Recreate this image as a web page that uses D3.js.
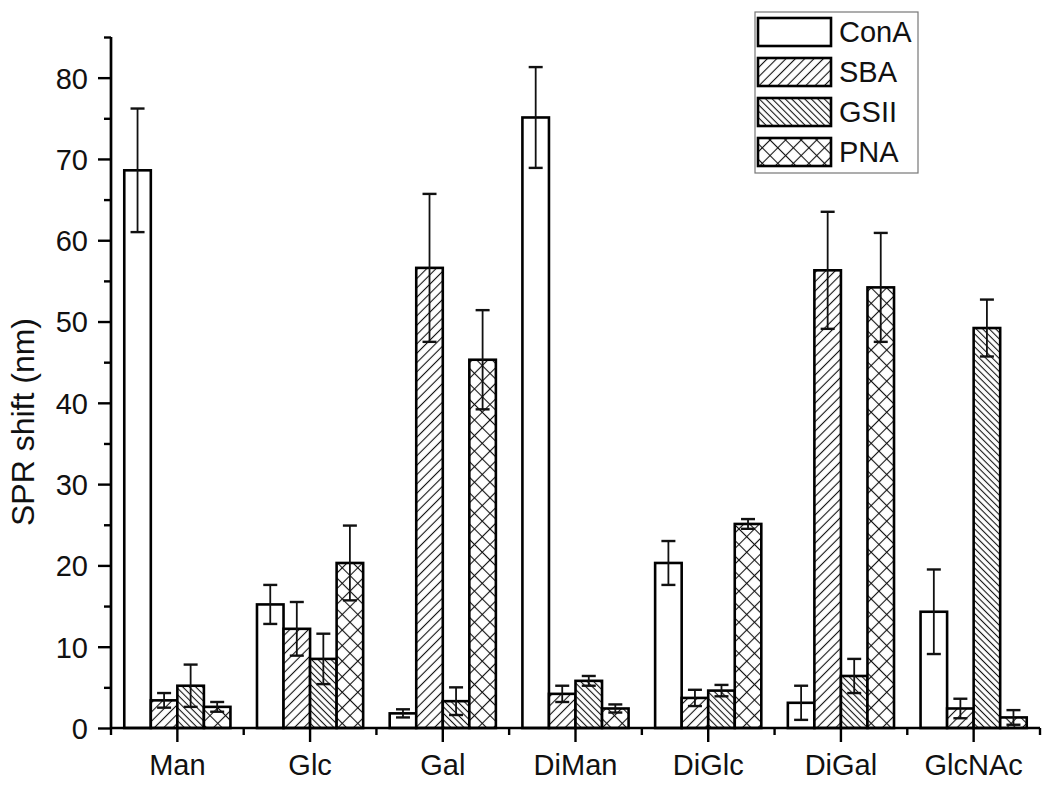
<!DOCTYPE html>
<html>
<head>
<meta charset="utf-8">
<script src="https://cdn.jsdelivr.net/npm/d3@7/dist/d3.min.js"></script>
<style>
  html, body { margin: 0; padding: 0; background: #fff; }
  svg { display: block; font-family: "Liberation Sans", Arial, sans-serif; }
</style>
</head>
<body>
<svg id="chart" width="1050" height="790"></svg>
<script>
// ---- data ----
const categories = ["Man", "Glc", "Gal", "DiMan", "DiGlc", "DiGal", "GlcNAc"];
const seriesNames = ["ConA", "SBA", "GSII", "PNA"];
const conA     = [68.6, 15.2, 1.8, 75.1, 20.3, 3.1, 14.3];
const conAErr  = [7.6, 2.4, 0.5, 6.2, 2.7, 2.1, 5.2];
const sba      = [3.4, 12.2, 56.6, 4.2, 3.7, 56.3, 2.4];
const sbaErr   = [0.9, 3.3, 9.1, 1.0, 1.0, 7.2, 1.2];
const gsii     = [5.2, 8.5, 3.3, 5.8, 4.6, 6.4, 49.2];
const gsiiErr  = [2.6, 3.1, 1.7, 0.6, 0.7, 2.1, 3.5];
const pna      = [2.6, 20.3, 45.3, 2.4, 25.1, 54.2, 1.3];
const pnaErr   = [0.6, 4.6, 6.1, 0.5, 0.6, 6.7, 0.9];
const yMajorTicks = [0, 10, 20, 30, 40, 50, 60, 70, 80];
const yMinorTicks = [5, 15, 25, 35, 45, 55, 65, 75, 85];
const yTitle = "SPR shift (nm)";

const seriesValues = [conA, sba, gsii, pna];
const seriesErrors = [conAErr, sbaErr, gsiiErr, pnaErr];

// ---- layout ----
const svg = d3.select("#chart");
const X0 = 111, X1 = 1040, Y0 = 728, Y1 = 37;
const FONT = 29;

const x = d3.scaleBand().domain(categories).range([X0, X1]).paddingInner(0.2).paddingOuter(0.1);
const xs = d3.scaleBand().domain(seriesNames).range([0, x.bandwidth()]);
const y = d3.scaleLinear().domain([0, 85]).range([Y0, Y1]);

// ---- patterns ----
const defs = svg.append("defs");
function linePattern(id, spacing, angle) {
  const p = defs.append("pattern").attr("id", id)
    .attr("patternUnits", "userSpaceOnUse")
    .attr("width", spacing).attr("height", spacing)
    .attr("patternTransform", `rotate(${angle})`);
  p.append("rect").attr("width", spacing).attr("height", spacing).attr("fill", "#fff");
  p.append("line").attr("x1", spacing / 2).attr("x2", spacing / 2)
    .attr("y1", -1).attr("y2", spacing + 1)
    .attr("stroke", "#111").attr("stroke-width", 1.1);
}
linePattern("pSBA", 6.6, 45);
linePattern("pGSII", 4.6, -45);
(function () {
  const s = 11;
  const p = defs.append("pattern").attr("id", "pPNA")
    .attr("patternUnits", "userSpaceOnUse")
    .attr("width", s).attr("height", s)
    .attr("patternTransform", "rotate(45)");
  p.append("rect").attr("width", s).attr("height", s).attr("fill", "#fff");
  p.append("line").attr("x1", s / 2).attr("x2", s / 2).attr("y1", -1).attr("y2", s + 1)
    .attr("stroke", "#111").attr("stroke-width", 1.1);
  p.append("line").attr("y1", s / 2).attr("y2", s / 2).attr("x1", -1).attr("x2", s + 1)
    .attr("stroke", "#111").attr("stroke-width", 1.1);
})();
const fills = { ConA: "#fff", SBA: "url(#pSBA)", GSII: "url(#pGSII)", PNA: "url(#pPNA)" };

// ---- bars ----
const rows = [];
categories.forEach((c, i) => {
  seriesNames.forEach((s, j) => {
    rows.push({ cat: c, ser: s, v: seriesValues[j][i], e: seriesErrors[j][i] });
  });
});

const gBars = svg.append("g");
gBars.selectAll("rect").data(rows).join("rect")
  .attr("x", d => x(d.cat) + xs(d.ser))
  .attr("y", d => y(d.v))
  .attr("width", xs.bandwidth())
  .attr("height", d => y(0) - y(d.v))
  .attr("fill", d => fills[d.ser])
  .attr("stroke", "#000")
  .attr("stroke-width", 2.6);

// ---- error bars ----
const gErr = svg.append("g").attr("stroke", "#111").attr("stroke-width", 1.8);
const capW = 7;
rows.forEach(d => {
  const cx = x(d.cat) + xs(d.ser) + xs.bandwidth() / 2;
  const yt = y(d.v + d.e), yb = y(Math.max(0, d.v - d.e));
  gErr.append("line").attr("x1", cx).attr("x2", cx).attr("y1", yt).attr("y2", yb);
  gErr.append("line").attr("x1", cx - capW).attr("x2", cx + capW).attr("y1", yt).attr("y2", yt).attr("stroke-width", 2.4);
  gErr.append("line").attr("x1", cx - capW).attr("x2", cx + capW).attr("y1", yb).attr("y2", yb).attr("stroke-width", 2.4);
});

// ---- y axis ----
const yAxis = d3.axisLeft(y).tickValues(yMajorTicks).tickSize(13).tickPadding(10).tickFormat(d3.format("d"));
const gy = svg.append("g").attr("transform", `translate(${X0},0)`).call(yAxis);
gy.select(".domain").remove();
gy.selectAll(".tick line").attr("stroke", "#000").attr("stroke-width", 2.4);
gy.selectAll(".tick text").attr("font-size", FONT).attr("fill", "#111").attr("dy", "0.36em");
const yMinor = d3.axisLeft(y).tickValues(yMinorTicks).tickSize(7).tickFormat("");
const gym = svg.append("g").attr("transform", `translate(${X0},0)`).call(yMinor);
gym.select(".domain").remove();
gym.selectAll(".tick line").attr("stroke", "#000").attr("stroke-width", 2.4);
svg.append("line").attr("x1", X0).attr("x2", X0).attr("y1", Y1).attr("y2", Y0)
  .attr("stroke", "#000").attr("stroke-width", 2.7);

// ---- x axis ----
const xAxis = d3.axisBottom(x).tickSize(14).tickPadding(12);
const gx = svg.append("g").attr("transform", `translate(0,${Y0})`).call(xAxis);
gx.select(".domain").remove();
gx.selectAll(".tick line").attr("stroke", "#000").attr("stroke-width", 2.4);
gx.selectAll(".tick text").attr("font-size", FONT).attr("fill", "#111");
// minor ticks at category boundaries
const bounds = categories.map(c => x(c) - x.step() * x.paddingInner() / 2)
  .concat([x(categories[categories.length - 1]) + x.bandwidth() + x.step() * x.paddingInner() / 2]);
svg.append("g").selectAll("line").data(bounds).join("line")
  .attr("x1", d => d).attr("x2", d => d).attr("y1", Y0).attr("y2", Y0 + 7)
  .attr("stroke", "#000").attr("stroke-width", 2.4);
svg.append("line").attr("x1", X0).attr("x2", X1).attr("y1", Y0).attr("y2", Y0)
  .attr("stroke", "#000").attr("stroke-width", 2.7);

// ---- y title ----
svg.append("text")
  .attr("transform", `translate(34,422) rotate(-90)`)
  .attr("text-anchor", "middle")
  .attr("font-size", 32).attr("fill", "#111")
  .text(yTitle);

// ---- legend ----
const lg = svg.append("g");
lg.append("rect").attr("x", 755).attr("y", 12).attr("width", 163).attr("height", 161)
  .attr("fill", "#fff").attr("stroke", "#777").attr("stroke-width", 1.2);
seriesNames.forEach((s, i) => {
  const yy = 18 + i * 40;
  lg.append("rect").attr("x", 758).attr("y", yy).attr("width", 73).attr("height", 28)
    .attr("fill", fills[s]).attr("stroke", "#000").attr("stroke-width", 2.6);
  lg.append("text").attr("x", 839).attr("y", yy + 14).attr("dy", "0.36em")
    .attr("font-size", FONT).attr("fill", "#111").text(s);
});
</script>
</body>
</html>
